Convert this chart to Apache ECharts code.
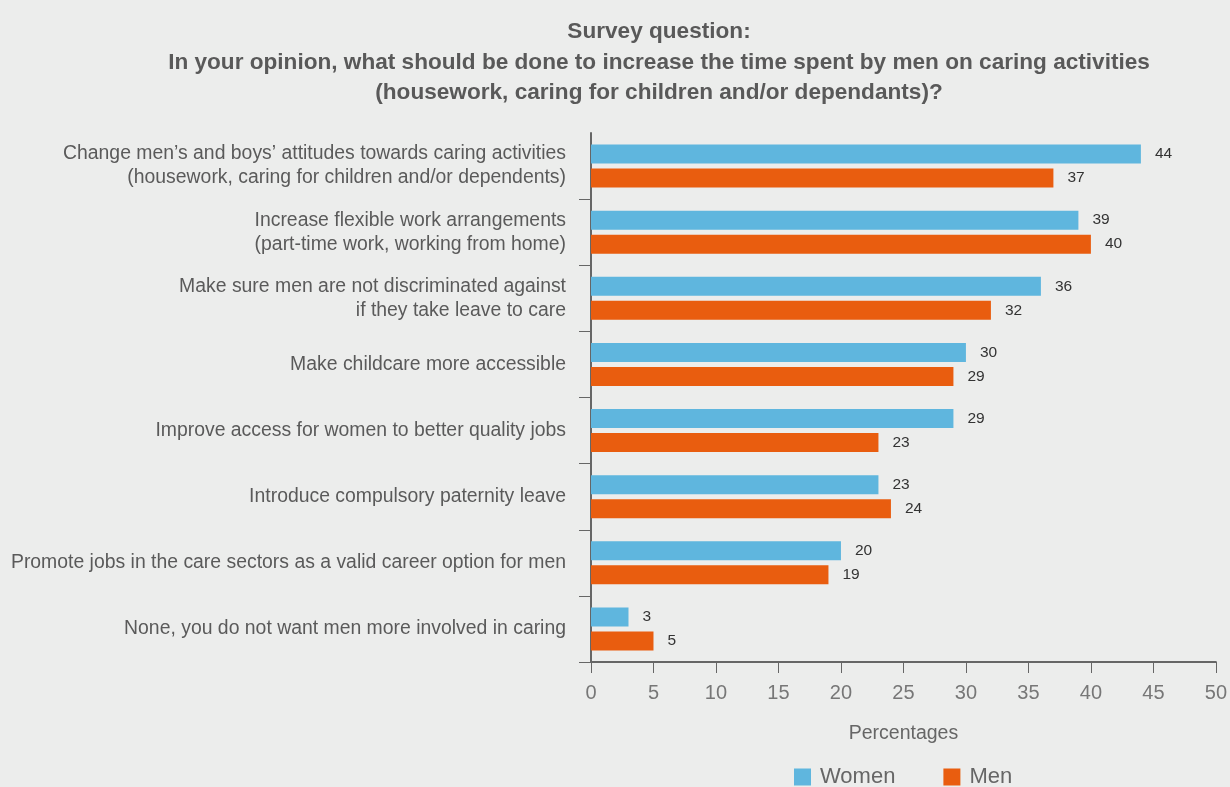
<!DOCTYPE html>
<html>
<head>
<meta charset="utf-8">
<script src="https://cdn.jsdelivr.net/npm/echarts@6/dist/echarts.min.js"></script>
<style>
html,body{margin:0;padding:0;background:#ecedec;}
#chart{width:1230px;height:787px;}
</style>
</head>
<body>
<div id="chart"></div>
<script>
const categories = [
  "Change men’s and boys’ attitudes towards caring activities\n(housework, caring for children and/or dependents)",
  "Increase flexible work arrangements\n(part-time work, working from home)",
  "Make sure men are not discriminated against\nif they take leave to care",
  "Make childcare more accessible",
  "Improve access for women to better quality jobs",
  "Introduce compulsory paternity leave",
  "Promote jobs in the care sectors as a valid career option for men",
  "None, you do not want men more involved in caring"
];
const women = [44, 39, 36, 30, 29, 23, 20, 3];
const men = [37, 40, 32, 29, 23, 24, 19, 5];
const seriesNames = ["Women", "Men"];
const titleText = "Survey question:\nIn your opinion, what should be done to increase the time spent by men on caring activities\n(housework, caring for children and/or dependants)?";
const axisName = "Percentages";

const chart = echarts.init(document.getElementById('chart'));
const labelStyle = {show: true, position: 'right', distance: 14, color: '#333', fontSize: 15.5, fontFamily: 'Liberation Sans'};
chart.setOption({
  backgroundColor: '#ecedec',
  animation: false,
  title: {
    text: titleText,
    left: 654, top: 12, textAlign: 'center',
    textStyle: {fontFamily: 'Liberation Sans', fontWeight: 'bold', fontSize: 22.6, color: '#595959', lineHeight: 30.5}
  },
  legend: {
    data: seriesNames, bottom: -6, left: 789,
    itemWidth: 17, itemHeight: 17, itemGap: 48, icon: 'rect',
    textStyle: {fontFamily: 'Liberation Sans', fontSize: 22, color: '#666', padding: [0, 0, 0, 4]}
  },
  grid: {left: 591, right: 12, top: 133, bottom: 125, containLabel: false},
  xAxis: {
    type: 'value', min: 0, max: 50, interval: 5,
    name: axisName, nameLocation: 'middle', nameGap: 62,
    nameTextStyle: {fontFamily: 'Liberation Sans', fontSize: 19.5, color: '#666'},
    axisLine: {show: true, lineStyle: {color: '#666', width: 2}},
    axisTick: {show: true, length: 11, lineStyle: {color: '#666', width: 1}},
    axisLabel: {fontFamily: 'Liberation Sans', fontSize: 20, color: '#777', margin: 21},
    splitLine: {show: false}
  },
  yAxis: {
    type: 'category', data: categories, inverse: true,
    axisLine: {show: true, lineStyle: {color: '#666', width: 2}},
    axisTick: {show: true, length: 12, interval: function (index) { return index !== 0; }, lineStyle: {color: '#666', width: 1}},
    axisLabel: {fontFamily: 'Liberation Sans', fontSize: 19.4, color: '#5a5a5a', margin: 25, lineHeight: 24, align: 'right'}
  },
  series: [
    {name: seriesNames[0], type: 'bar', data: women, itemStyle: {color: '#5fb6de'}, barGap: '26%', barCategoryGap: '35%', label: labelStyle},
    {name: seriesNames[1], type: 'bar', data: men, itemStyle: {color: '#e95d0f'}, label: labelStyle}
  ]
});
</script>
</body>
</html>
